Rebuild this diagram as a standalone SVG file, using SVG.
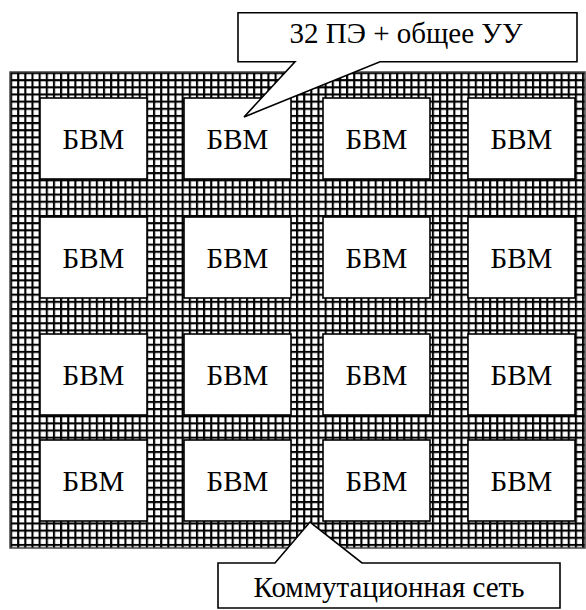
<svg xmlns="http://www.w3.org/2000/svg" width="586" height="610" viewBox="0 0 586 610">
  <style>
    .bvm rect { fill: #fff; stroke: #000; stroke-width: 1.6; }
    .callout { fill: #fff; stroke: #000; stroke-width: 1.6; stroke-linejoin: miter; }
  </style>
  <defs>
    <pattern id="mesh" patternUnits="userSpaceOnUse" x="10" y="72" width="7.15" height="7.15">
      <rect width="7.15" height="7.15" fill="#fff"/>
      <rect width="2.1" height="7.15" fill="#000"/>
      <rect width="7.15" height="2.1" fill="#000"/>
    </pattern>
  </defs>
  <rect width="586" height="610" fill="#fff"/>

  <g id="network">
    <rect x="10" y="72" width="575" height="476" fill="url(#mesh)" stroke="#444" stroke-width="1.5"/>
  </g>

  <g font-family="Liberation Serif, serif" font-size="29" text-anchor="middle" fill="#000">
  <g id="bvm-1-1" class="bvm"><rect x="40" y="98" width="107" height="81"/><text x="93.5" y="149">БВМ</text></g>
  <g id="bvm-1-2" class="bvm"><rect x="184" y="98" width="107" height="81"/><text x="237.5" y="149">БВМ</text></g>
  <g id="bvm-1-3" class="bvm"><rect x="323" y="98" width="107" height="81"/><text x="376.5" y="149">БВМ</text></g>
  <g id="bvm-1-4" class="bvm"><rect x="468" y="98" width="107" height="81"/><text x="521.5" y="149">БВМ</text></g>

  <g id="bvm-2-1" class="bvm"><rect x="40" y="217" width="107" height="81"/><text x="93.5" y="268">БВМ</text></g>
  <g id="bvm-2-2" class="bvm"><rect x="184" y="217" width="107" height="81"/><text x="237.5" y="268">БВМ</text></g>
  <g id="bvm-2-3" class="bvm"><rect x="323" y="217" width="107" height="81"/><text x="376.5" y="268">БВМ</text></g>
  <g id="bvm-2-4" class="bvm"><rect x="468" y="217" width="107" height="81"/><text x="521.5" y="268">БВМ</text></g>

  <g id="bvm-3-1" class="bvm"><rect x="40" y="334" width="107" height="81"/><text x="93.5" y="385">БВМ</text></g>
  <g id="bvm-3-2" class="bvm"><rect x="184" y="334" width="107" height="81"/><text x="237.5" y="385">БВМ</text></g>
  <g id="bvm-3-3" class="bvm"><rect x="323" y="334" width="107" height="81"/><text x="376.5" y="385">БВМ</text></g>
  <g id="bvm-3-4" class="bvm"><rect x="468" y="334" width="107" height="81"/><text x="521.5" y="385">БВМ</text></g>

  <g id="bvm-4-1" class="bvm"><rect x="40" y="440" width="107" height="81"/><text x="93.5" y="491">БВМ</text></g>
  <g id="bvm-4-2" class="bvm"><rect x="184" y="440" width="107" height="81"/><text x="237.5" y="491">БВМ</text></g>
  <g id="bvm-4-3" class="bvm"><rect x="323" y="440" width="107" height="81"/><text x="376.5" y="491">БВМ</text></g>
  <g id="bvm-4-4" class="bvm"><rect x="468" y="440" width="107" height="81"/><text x="521.5" y="491">БВМ</text></g>

  <g id="connectors"></g>

  <g id="callout-pe">
    <path class="callout" d="M238,12.7 H577 V61.7 H380 L244,117 L295,61.7 H238 Z"/>
    <text x="406" y="43">32 ПЭ + общее УУ</text>
  </g>

  <g id="callout-net">
    <path class="callout" d="M218,563 H275 L310,522 L362,563 H560 V608 H218 Z"/>
    <text x="389" y="597">Коммутационная сеть</text>
  </g>
  </g>
</svg>
